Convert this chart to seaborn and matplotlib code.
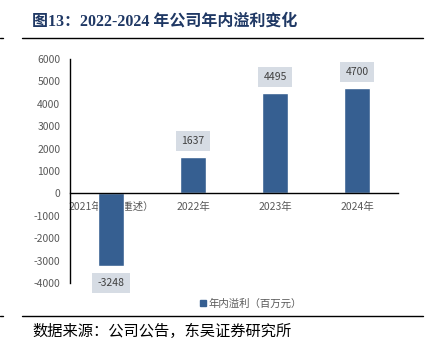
import numpy as np
import pandas as pd
import matplotlib
matplotlib.use("Agg")
import matplotlib.pyplot as plt
import seaborn as sns
from matplotlib.lines import Line2D
from matplotlib.ticker import FixedLocator

sns.set_theme(style="white")
plt.rcParams["font.family"] = ["Noto Sans CJK SC", "DejaVu Sans"]
plt.rcParams["axes.unicode_minus"] = False

years = ["2021年（经重述）", "2022年", "2023年", "2024年"]
profit = [-3248, 1637, 4495, 4700]
series_name = "年内溢利（百万元）"

df = pd.DataFrame({"year": years, "profit": profit})

bar_color = "#365f91"
box_color = "#d6dce4"
text_gray = "#595959"

fig = plt.figure(figsize=(4.33, 3.54), dpi=100)
ax = fig.add_axes([70 / 433, 1 - 283 / 354, 328 / 433, 224 / 354])

sns.barplot(data=df, x="year", y="profit", color=bar_color, width=0.31,
            saturation=1, label=series_name, ax=ax)

ax.set_xlim(-0.5, 3.5)
ax.set_ylim(-4000, 6000)
ax.set_yticks(np.arange(-4000, 6001, 1000))
ax.set_xlabel("")
ax.set_ylabel("")

# axes: left spine + zero line as x axis
for s in ["top", "right"]:
    ax.spines[s].set_visible(False)
ax.spines["bottom"].set_position(("data", 0))
for s in ["left", "bottom"]:
    ax.spines[s].set_color("black")
    ax.spines[s].set_linewidth(1.0)

ax.tick_params(axis="y", labelsize=7.5, labelcolor=text_gray, length=3,
               direction="in", width=0.8, pad=7, color="black")
ax.tick_params(axis="x", which="major", length=0, labelsize=7.5,
               labelcolor=text_gray, pad=6)
ax.xaxis.set_minor_locator(FixedLocator([0.5, 1.5, 2.5, 3.5]))
ax.tick_params(axis="x", which="minor", length=3, direction="in",
               color="black", width=0.8)

# data labels in boxes
for i, v in enumerate(profit):
    off = 16 if v > 0 else -17
    ax.annotate(f"{v}", (i, v), xytext=(0, off), textcoords="offset pixels",
                ha="center", va="center", fontsize=7.5, color="#404040",
                bbox=dict(boxstyle="square,pad=0.5", fc=box_color, ec="none"))

# legend below plot
ax.legend(handles=[Line2D([], [], marker="s", ls="", color=bar_color, markersize=5)],
          labels=[series_name], loc="center", frameon=False, fontsize=7.5,
          labelcolor=text_gray, handletextpad=0.0, handlelength=1.0,
          bbox_to_anchor=(250 / 433, 1 - 304 / 354),
          bbox_transform=fig.transFigure)

# title, rules and source
fig.text(32 / 433, 1 - 22 / 354, "图13：2022-2024 年公司年内溢利变化",
         fontsize=11.5, fontweight="bold", color="#1f3864", va="center",
         family=["Liberation Serif", "Noto Sans CJK SC"])
fig.add_artist(Line2D([22 / 433, 423 / 433], [1 - 38 / 354] * 2,
                      color="black", lw=1.0))
fig.add_artist(Line2D([22 / 433, 423 / 433], [1 - 316 / 354] * 2,
                      color="black", lw=1.0))
fig.add_artist(Line2D([0, 3 / 433], [1 - 38 / 354] * 2, color="black", lw=1.0))
fig.add_artist(Line2D([0, 3 / 433], [1 - 316 / 354] * 2, color="black", lw=1.0))
fig.text(32 / 433, 1 - 331 / 354, "数据来源：公司公告，东吴证券研究所",
         fontsize=11, color="black", va="center")

fig.savefig("out.png", dpi=100)
